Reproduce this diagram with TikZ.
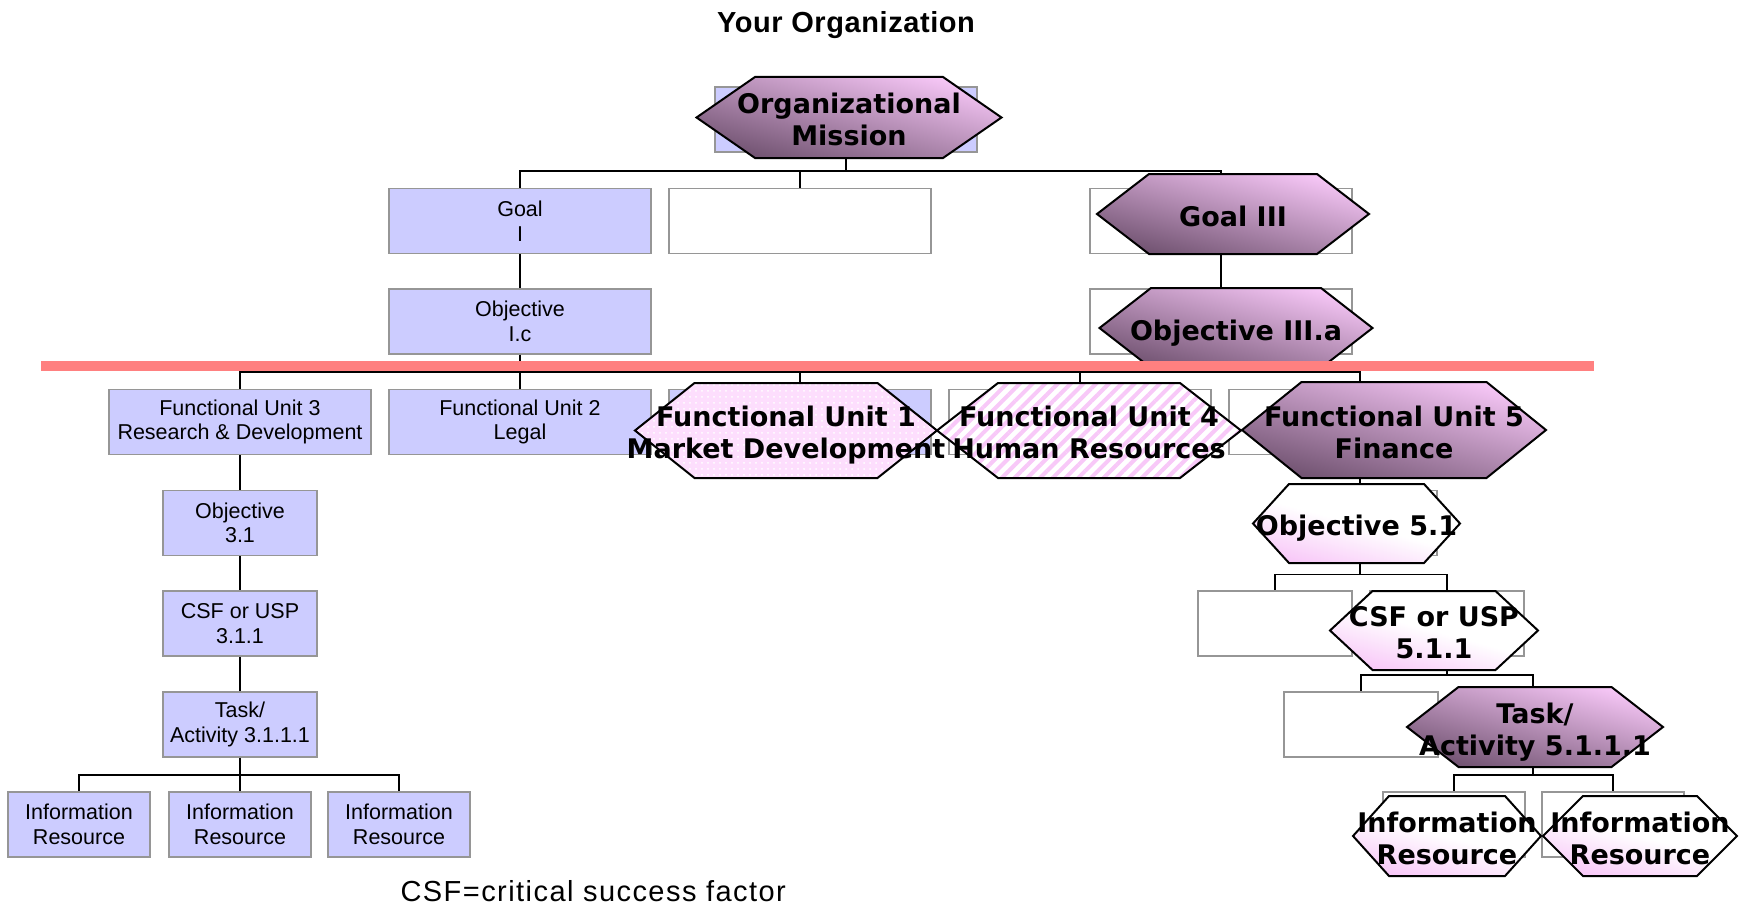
\documentclass[tikz,border=0pt]{standalone}
\usepackage{fontspec}
\setmainfont{Liberation Sans}
\newfontfamily\hexfam{DejaVu Sans}
\usetikzlibrary{patterns.meta}

\definecolor{lav}{RGB}{204,204,255}
\definecolor{boxgray}{RGB}{150,150,150}
\definecolor{redbar}{RGB}{255,128,128}
\definecolor{pinklt}{RGB}{248,200,248}
\definecolor{mauve}{RGB}{112,82,112}
\definecolor{pinkpale}{RGB}{253,222,253}

% style, name, cx, cy, half tip width, half flat width, half height, text
\newcommand{\hexnode}[8]{%
  \draw[#1] ({#3-#5},{#4}) -- ({#3-#6},{#4-#7}) -- ({#3+#6},{#4-#7}) -- ({#3+#5},{#4})
    -- ({#3+#6},{#4+#7}) -- ({#3-#6},{#4+#7}) -- cycle;
  \node[hextxt] (#2) at (#3,#4) {#8};}

\begin{document}
\begin{tikzpicture}[x=1pt, y=-1pt,
    box/.style={draw=boxgray, line width=1.5pt, fill=lav, minimum width=262pt, minimum height=65pt,
      inner sep=0pt, align=center, font=\fontsize{21.5}{24.5}\selectfont},
    blank/.style={box, fill=white},
    smallbox/.style={box, minimum width=154pt},
    infobox/.style={box, minimum width=142pt},
    link/.style={line width=1.5pt},
    hexline/.style={draw=black, line width=2pt},
    deep/.style={hexline, top color=pinklt, bottom color=mauve, shading angle=-15},
    pale/.style={hexline, top color=white, bottom color=pinklt, middle color=white, shading angle=-15},
    speckle/.style={preaction={fill=pinkpale}, preaction={pattern={Dots[distance=6pt,radius=1pt]}, pattern color=white}, hexline},
    striped/.style={preaction={fill=white}, preaction={pattern={Lines[angle=45,distance=9pt,line width=4pt]}, pattern color=pinklt}, hexline},
    hextxt/.style={align=center, inner sep=0pt, text depth=0pt, yshift=-2pt, font=\hexfam\bfseries\fontsize{27}{32}\selectfont}]
   
    \useasboundingbox (0,0) rectangle (1741,907);

    \node[font=\bfseries\fontsize{29}{34}\selectfont\addfontfeatures{LetterSpace=2}, anchor=base] (title) at (846,33) {Your Organization};

    % upper part
    \node[box] (mis) at (846,119.5) {};
    \node[box] (g1) at (520,221) {Goal\\I};
    \node[blank] (g2) at (800,221) {};
    \node[blank] (g3) at (1221,221) {};
    \node[box] (o1) at (520,321.5) {Objective\\I.c};
    \node[blank] (o3) at (1221,321.5) {};
    \draw[link] (mis.south) -- ++(0,18) -| (g1.north);
    \draw[link] (mis.south) -- ++(0,18) -| (g2.north);
    \draw[link] (mis.south) -- ++(0,18) -| (g3.north);
    \draw[link] (g1.south) -- (o1.north);
    \draw[link] (g3.south) -- (o3.north);

    % functional units
    \node[box] (fu3) at (240,422) {Functional Unit 3\\Research \& Development};
    \node[box] (fu2) at (520,422) {Functional Unit 2\\Legal};
    \node[box] (fu1) at (800,422) {};
    \node[blank] (fu4) at (1080,422) {};
    \node[blank] (fu5) at (1360,422) {};
    \foreach \f in {fu3,fu2,fu1,fu4,fu5}
      \draw[link] (o1.south) -- ++(0,17) -| (\f.north);

    % left branch
    \node[smallbox] (ob31) at (240,523) {Objective\\3.1};
    \node[smallbox] (csf31) at (240,623.5) {CSF or USP\\3.1.1};
    \node[smallbox] (task31) at (240,724.5) {Task/\\Activity 3.1.1.1};
    \node[infobox] (ir1) at (79,824.5) {Information\\Resource};
    \node[infobox] (ir2) at (240,824.5) {Information\\Resource};
    \node[infobox] (ir3) at (399,824.5) {Information\\Resource};
    \draw[link] (fu3.south) -- (ob31.north);
    \draw[link] (ob31.south) -- (csf31.north);
    \draw[link] (csf31.south) -- (task31.north);
    \foreach \i in {ir1,ir2,ir3}
      \draw[link] (task31.south) -- ++(0,17) -| (\i.north);

    % right branch
    \node[smallbox, fill=white] (ob51) at (1360,523) {};
    \node[smallbox, fill=white] (csfx) at (1275,623.5) {};
    \node[smallbox, fill=white] (csf51) at (1447,623.5) {};
    \node[smallbox, fill=white] (taskx) at (1361,724.5) {};
    \node[smallbox, fill=white] (task51) at (1533,724.5) {};
    \node[infobox, fill=white] (ir4) at (1454,824.5) {};
    \node[infobox, fill=white] (ir5) at (1613,824.5) {};
    \draw[link] (fu5.south) -- (ob51.north);
    \draw[link] (ob51.south) -- ++(0,18) -| (csfx.north);
    \draw[link] (ob51.south) -- ++(0,18) -| (csf51.north);
    \draw[link] (csf51.south) -- ++(0,18) -| (taskx.north);
    \draw[link] (csf51.south) -- ++(0,18) -| (task51.north);
    \draw[link] (task51.south) -- ++(0,17) -| (ir4.north);
    \draw[link] (task51.south) -- ++(0,17) -| (ir5.north);

    % hexagons
    \hexnode{deep}{mish}{849}{117.5}{152.5}{94}{40.5}{Organizational\\Mission}
    \hexnode{deep}{g3h}{1233}{214}{136}{84}{40}{Goal III}
    \hexnode{deep}{o3h}{1236}{328}{136.5}{85}{40}{Objective III.a}
    \hexnode{speckle}{fu1h}{786}{430.5}{151}{91.5}{47.5}{Functional Unit 1\\Market Development}
    \hexnode{striped}{fu4h}{1089}{430.5}{152}{91}{47.5}{Functional Unit 4\\Human Resources}
    \hexnode{deep}{fu5h}{1394}{430}{152}{92.5}{48}{Functional Unit 5\\Finance}
    \hexnode{pale}{ob51h}{1356.5}{523.5}{103.5}{67.5}{39.5}{Objective 5.1}
    \hexnode{pale}{csf51h}{1434}{630.5}{104}{61.5}{39.5}{CSF or USP\\5.1.1}
    \hexnode{deep}{task51h}{1535}{727}{128}{76.5}{40}{Task/\\Activity 5.1.1.1}
    \hexnode{pale}{ir4h}{1447}{836}{94}{58}{40}{Information\\Resource}
    \hexnode{pale}{ir5h}{1640}{836}{97}{57}{40}{Information\\Resource}

    % red line
    \fill[redbar] (41,361) rectangle (1594,371);

    \node[anchor=base west, font=\fontsize{29}{34}\selectfont\addfontfeatures{LetterSpace=5}] (note) at (397,901) {CSF=critical success factor};
\end{tikzpicture}
\end{document}
